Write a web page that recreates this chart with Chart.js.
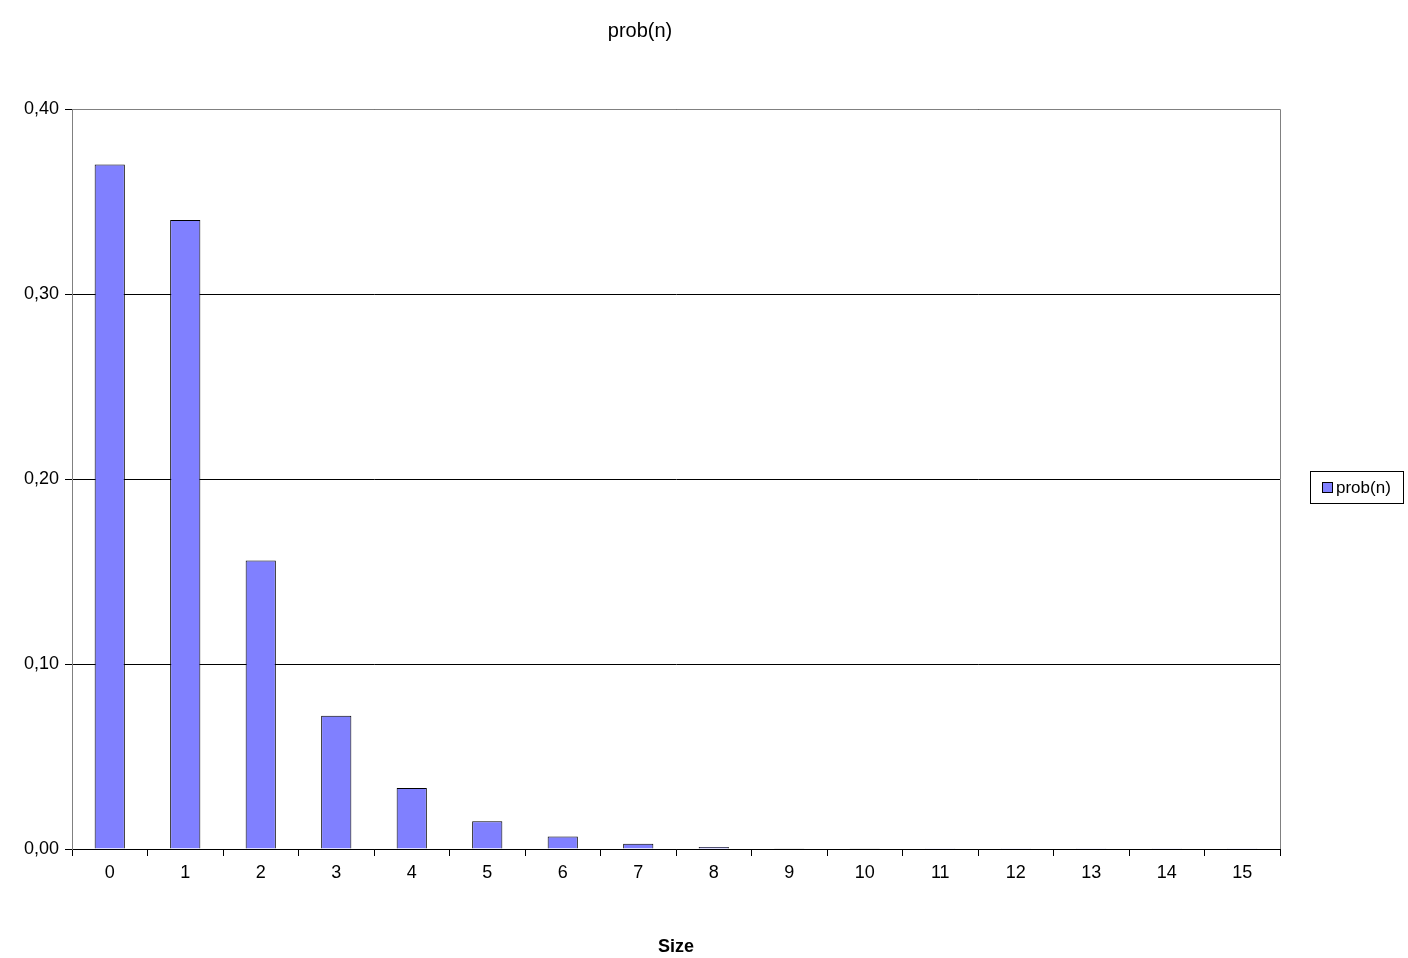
<!DOCTYPE html>
<html><head><meta charset="utf-8">
<script src="https://cdn.jsdelivr.net/npm/chart.js@4"></script>
<style>html,body{margin:0;padding:0;background:#fff}#w{width:1408px;height:958px}</style>
</head><body><div id="w"><canvas id="c"></canvas></div>
<script>
const categories = ['0','1','2','3','4','5','6','7','8','9','10','11','12','13','14','15'];
const probValues = [0.370,0.340,0.156,0.072,0.033,0.015,0.0068,0.0028,0.0011,0.0004,0.0002,0.0001,0.0001,0.0001,0.0001,0.0001];
const seriesName = 'prob(n)';
const FONT = '"Liberation Sans", Arial, sans-serif';

const extras = {
  id:'extras',
  afterDraw(chart){
    const {ctx, chartArea:a} = chart;
    ctx.save();
    ctx.strokeStyle='#808080'; ctx.lineWidth=1;
    ctx.beginPath();
    ctx.moveTo(a.left,a.top+0.5); ctx.lineTo(a.right+0.5,a.top+0.5); ctx.lineTo(a.right+0.5,a.bottom);
    ctx.stroke();
    // legend
    const x=1310,y=471,w=93,h=32;
    ctx.strokeStyle='#000';
    ctx.strokeRect(x+0.5,y+0.5,w,h);
    ctx.fillStyle='#8080FF';
    ctx.fillRect(x+12,y+11,10,10);
    ctx.strokeRect(x+12.5,y+11.5,10,10);
    ctx.fillStyle='#000'; ctx.font='17px '+FONT; ctx.textBaseline='middle';
    ctx.fillText(seriesName,x+26,y+17);
    ctx.restore();
  }
};

new Chart(document.getElementById('c'),{
  type:'bar',
  data:{labels:categories,datasets:[{label:seriesName,data:probValues,backgroundColor:'#8080FF',borderColor:'#000',borderWidth:1,barPercentage:0.4,categoryPercentage:1}]},
  options:{
    responsive:true,maintainAspectRatio:false,animation:false,
    layout:{padding:{left:0,right:128,top:0,bottom:0}},
    plugins:{
      legend:{display:false},tooltip:{enabled:false},
      title:{display:true,text:seriesName,color:'#000',font:{family:FONT,size:20,weight:'normal'},padding:{top:19,bottom:66}}
    },
    scales:{
      x:{offset:true,
        grid:{offset:true,drawOnChartArea:false,color:'#000',tickLength:7,tickColor:'#000'},
        border:{color:'#000'},
        ticks:{color:'#000',font:{family:FONT,size:18},padding:6,maxRotation:0},
        title:{display:true,text:'Size',color:'#000',font:{family:FONT,size:18,weight:'bold'},padding:{top:12,bottom:0}},
        afterFit(s){s.height=109;}
      },
      y:{min:0,max:0.4,
        grid:{color:'#000',tickLength:7,tickColor:'#000'},
        border:{color:'#808080'},
        ticks:{stepSize:0.1,color:'#000',font:{family:FONT,size:18},padding:6,callback:v=>v.toFixed(2).replace('.',',')},
        afterFit(s){s.width=72;}
      }
    }
  },
  plugins:[extras]
});
</script></body></html>
